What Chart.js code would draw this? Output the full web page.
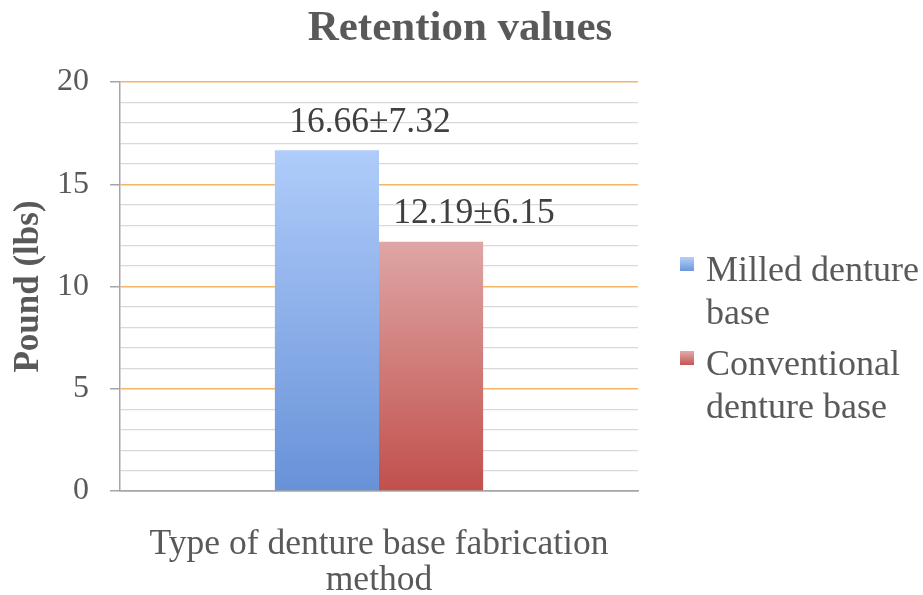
<!DOCTYPE html>
<html>
<head>
<meta charset="utf-8">
<script src="https://cdn.jsdelivr.net/npm/chart.js@4.4.1/dist/chart.umd.min.js"></script>
<style>
html,body{margin:0;padding:0;background:#fff;}
#wrap{width:923px;height:595px;}
</style>
</head>
<body>
<div id="wrap"><canvas id="c" width="923" height="595"></canvas></div>
<script>
const categories = ['Type of denture base fabrication method'];
const seriesNames = [['Milled denture', 'base'], ['Conventional', 'denture base']];
const milledValues = [16.66];
const milledSD = [7.32];
const conventionalValues = [12.19];
const conventionalSD = [6.15];
const yTicks = [0, 5, 10, 15, 20];

const FONT = '"Liberation Serif", "Times New Roman", serif';
const TXT = '#595959';
const gradStops = [['#afccfa', '#6892d8'], ['#dea6a5', '#c1504c']];

function barGradient(idx) {
  return function (ctx) {
    const chart = ctx.chart;
    if (!chart.chartArea || ctx.raw === undefined) return gradStops[idx][1];
    const ys = chart.scales.y;
    const top = ys.getPixelForValue(ctx.raw);
    const bot = ys.getPixelForValue(0);
    const g = chart.ctx.createLinearGradient(0, top, 0, bot);
    g.addColorStop(0, gradStops[idx][0]);
    g.addColorStop(1, gradStops[idx][1]);
    return g;
  };
}

const overlay = {
  id: 'overlay',
  afterDraw(chart) {
    const ctx = chart.ctx;
    ctx.save();
    // title
    ctx.fillStyle = TXT;
    ctx.font = 'bold 43px ' + FONT;
    ctx.textAlign = 'center';
    ctx.textBaseline = 'middle';
    ctx.fillText('Retention values', 460, 29);
    // data labels
    const sds = [milledSD, conventionalSD];
    ctx.font = '35.5px ' + FONT;
    ctx.fillStyle = '#404040';
    chart.data.datasets.forEach((ds, di) => {
      const meta = chart.getDatasetMeta(di);
      meta.data.forEach((bar, i) => {
        const txt = ds.data[i].toFixed(2) + '\u00B1' + sds[di][i].toFixed(2);
        ctx.fillText(txt, bar.x + 43, bar.y - 28);
      });
    });
    // legend
    const lx = 680, sq = 14;
    const items = [{y: 272}, {y: 366}];
    ctx.font = '36px ' + FONT;
    ctx.textAlign = 'left';
    items.forEach((it, k) => {
      const g = ctx.createLinearGradient(0, it.y - 14, 0, it.y);
      g.addColorStop(0, gradStops[k][0]);
      g.addColorStop(1, gradStops[k][1]);
      ctx.fillStyle = g;
      ctx.fillRect(lx, it.y - 15, sq, sq);
      ctx.fillStyle = TXT;
      seriesNames[k].forEach((line, j) => {
        ctx.fillText(line, lx + 26, it.y + j * 43);
      });
    });
    ctx.restore();
  }
};

new Chart(document.getElementById('c'), {
  type: 'bar',
  data: {
    labels: categories,
    datasets: [
      { label: seriesNames[0].join(' '), data: milledValues, backgroundColor: barGradient(0), borderWidth: 0 },
      { label: seriesNames[1].join(' '), data: conventionalValues, backgroundColor: barGradient(1), borderWidth: 0 }
    ]
  },
  options: {
    responsive: false,
    animation: false,
    devicePixelRatio: 1,
    layout: { padding: { top: 82, right: 285, bottom: 0, left: 0 } },
    categoryPercentage: 0.402,
    barPercentage: 1.0,
    plugins: { legend: { display: false }, title: { display: false }, tooltip: { enabled: false } },
    scales: {
      x: {
        ticks: { display: false },
        grid: { display: false, drawTicks: false },
        border: { display: true, color: '#a6a6a6', width: 1.5 },
        title: {
          display: true,
          text: ['Type of denture base fabrication', 'method'],
          color: TXT,
          font: { family: FONT, size: 35.5, lineHeight: '36px' },
          padding: { top: 0, bottom: -4 }
        },
        afterFit(scale) { scale.height = 104; }
      },
      y: {
        min: 0, max: 20,
        ticks: {
          stepSize: 1,
          autoSkip: false,
          padding: 21,
          color: TXT,
          font: { family: FONT, size: 32 },
          callback: (v) => (yTicks.includes(v) ? String(v) : '')
        },
        grid: {
          color: (c) => (c.tick.value === 0 ? '#a6a6a6' : (c.tick.value % 5 === 0 ? '#f5b466' : '#d9d9d9')),
          lineWidth: (c) => (c.tick.value % 5 === 0 ? 1.5 : 1.2),
          tickColor: (c) => (c.tick.value % 5 === 0 ? '#a6a6a6' : 'rgba(0,0,0,0)'),
          tickLength: 10
        },
        border: { display: true, color: '#a6a6a6', width: 1.5 },
        title: {
          display: true,
          text: 'Pound (lbs)',
          color: TXT,
          font: { family: FONT, size: 35, weight: 'bold' },
          padding: { top: 8, bottom: 0 }
        },
        afterFit(scale) { scale.width = 120; }
      }
    }
  },
  plugins: [overlay]
});
</script>
</body>
</html>
